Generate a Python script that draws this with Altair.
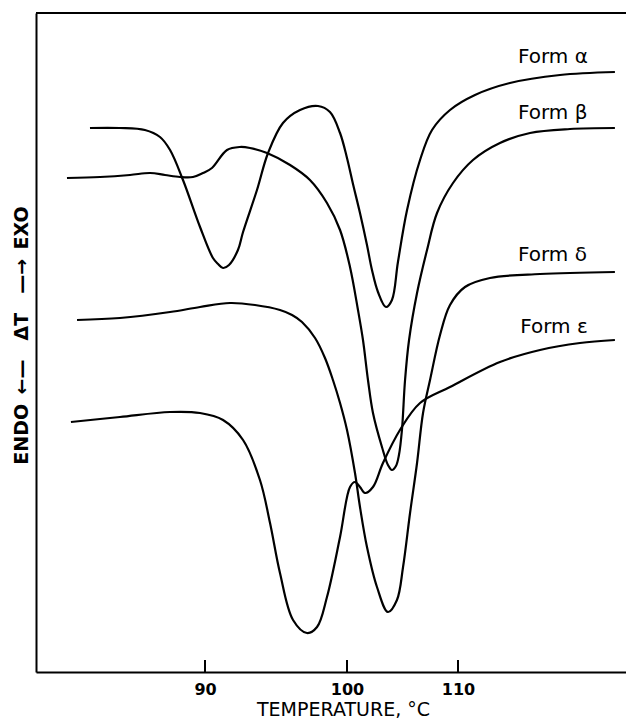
import altair as alt
import pandas as pd

# Temperature (deg C) and Delta T (arbitrary units)
alpha_T = [81.9, 84.0, 85.77, 86.83, 87.54, 88.45, 89.65, 90.56, 90.92, 91.27, 91.69, 92.32, 92.68,
           93.66, 94.44, 95.49, 96.69, 97.96, 98.80, 99.51, 100.0, 100.54, 101.17, 101.80, 102.25,
           102.79, 103.51, 104.05, 104.59, 105.41, 106.58, 107.66, 109.28, 111.53, 114.68, 119.19,
           124.14]
alpha_dT = [54.4, 54.4, 54.2, 53.5, 52.2, 49.2, 44.5, 41.4, 40.8, 40.4, 40.7, 42.2, 44.0,
            48.2, 51.9, 54.9, 56.2, 56.6, 56.0, 53.9, 51.4, 48.8, 45.9, 42.7, 40.2,
            38.0, 36.5, 37.2, 41.0, 46.2, 51.2, 54.2, 56.2, 57.7, 58.9, 59.7,
            60.0]

beta_T = [80.28, 82.61, 84.72, 86.13, 87.18, 88.24, 89.15, 89.86, 90.49, 91.55, 92.46, 93.17, 94.37,
          95.99, 97.39, 98.59, 99.51, 100.27, 100.99, 101.44, 101.89, 102.34, 103.15, 103.69, 104.05,
          104.41, 104.68, 104.95, 105.23, 105.59, 106.31, 107.21, 108.11, 109.55, 111.35, 113.78,
          116.49, 120.09, 124.14]
beta_dT = [49.4, 49.5, 49.7, 49.9, 49.7, 49.5, 49.5, 49.9, 50.4, 52.2, 52.5, 52.4, 51.9,
           50.7, 49.2, 46.9, 44.2, 40.5, 36.2, 33.2, 29.2, 25.9, 22.5, 20.7, 20.2,
           20.6, 21.7, 24.2, 29.2, 33.2, 37.9, 42.2, 45.9, 48.9, 51.2, 52.9,
           53.9, 54.3, 54.4]

delta_T = [80.99, 84.01, 87.54, 89.65, 91.76, 93.52, 95.28, 96.13, 96.83, 97.75, 98.45, 99.01, 99.51,
           100.0, 100.72, 101.17, 101.80, 102.70, 103.69, 104.50, 105.05, 105.68, 106.31, 106.85,
           107.48, 108.38, 109.28, 110.63, 112.88, 117.39, 124.14]
delta_dT = [35.2, 35.4, 36.0, 36.5, 36.9, 36.7, 36.2, 35.7, 35.0, 33.4, 31.4, 29.2, 26.9,
            24.2, 19.9, 16.5, 12.5, 8.5, 6.0, 7.2, 10.5, 15.9, 20.9, 25.9,
            29.2, 33.7, 36.7, 38.5, 39.4, 39.8, 40.0]

eps_T = [80.56, 84.01, 87.54, 89.65, 91.27, 92.68, 93.87, 94.58, 95.28, 96.20, 97.18, 97.89, 98.59,
         99.51, 100.27, 100.72, 101.17, 101.62, 102.34, 103.24, 104.77, 106.58, 109.28, 113.78,
         117.39, 120.99, 124.14]
eps_dT = [25.0, 25.5, 26.0, 25.9, 25.2, 23.2, 19.2, 14.9, 9.9, 5.2, 3.9, 4.5, 7.5,
          13.5, 18.5, 19.0, 18.5, 17.9, 18.5, 20.9, 24.2, 26.9, 28.5, 31.0,
          32.2, 32.9, 33.2]

label_text = ["Form α", "Form β", "Form δ", "Form ε"]
label_T = [115.4, 115.4, 115.4, 115.6]
label_dT = [60.9, 55.3, 41.1, 33.9]

tick_T = [90, 100, 110]

rows = []
for name, ts, ys in [("alpha", alpha_T, alpha_dT), ("beta", beta_T, beta_dT),
                     ("delta", delta_T, delta_dT), ("epsilon", eps_T, eps_dT)]:
    for i, (t, y) in enumerate(zip(ts, ys)):
        rows.append({"form": name, "T": t, "dT": y, "i": i})
curves = pd.DataFrame(rows)
labels = pd.DataFrame({"text": label_text, "T": label_T, "dT": label_dT})
ticks = pd.DataFrame({"T": tick_T})

W, H = 590, 659
xscale = alt.Scale(domain=[78.1, 90, 100, 110, 125.14], range=[0, 169, 311, 422, W],
                   nice=False, zero=False)
yscale = alt.Scale(domain=[0, 65.9], nice=False, zero=False)

FONT = "DejaVu Sans"
SP = "\u2002"  # en space (kept by SVG, unlike repeated plain spaces)
ytitle = "ENDO" + SP + "←—" + SP * 2 + "ΔT" + SP * 2 + "—→" + SP + "EXO"

xaxis = alt.Axis(values=tick_T, ticks=False, tickSize=0, grid=False, domainColor="black",
                 domainWidth=2, labelFont=FONT, labelFontSize=16, labelFontWeight="bold",
                 labelColor="black", labelPadding=9, labelBaseline="top",
                 title="TEMPERATURE, °C", titleFont=FONT, titleFontSize=19,
                 titleFontWeight="normal", titleColor="black",
                 titleBaseline="alphabetic", titleX=307, titleY=43)
yaxis = alt.Axis(values=[], ticks=False, labels=False, grid=False, domainColor="black",
                 domainWidth=2, title=ytitle, titleFont=FONT,
                 titleFontSize=19, titleFontWeight="bold", titleColor="black",
                 titleAngle=-90, titleAlign="center", titleBaseline="middle",
                 titleX=-15, titleY=322)

lines = alt.Chart(curves).mark_line(color="black", strokeWidth=2.2,
                                    interpolate="catmull-rom").encode(
    x=alt.X("T:Q", scale=xscale, axis=xaxis),
    y=alt.Y("dT:Q", scale=yscale, axis=yaxis),
    detail="form:N",
    order="i:Q",
)

text = alt.Chart(labels).mark_text(align="left", baseline="alphabetic", font=FONT,
                                   fontSize=20, color="black").encode(
    x=alt.X("T:Q", scale=xscale),
    y=alt.Y("dT:Q", scale=yscale),
    text="text:N",
)

tickmarks = alt.Chart(ticks).mark_rule(color="black", strokeWidth=2).encode(
    x=alt.X("T:Q", scale=xscale),
    y=alt.value(H),
    y2=alt.value(H - 12),
)

topline = alt.Chart(ticks).mark_rule(color="black", strokeWidth=2).encode(
    x=alt.value(0), x2=alt.value(W), y=alt.value(0)
)

chart = alt.layer(lines, text, tickmarks, topline).properties(
    width=W, height=H,
    autosize=alt.AutoSizeParams(type="none"),
    padding={"left": 36, "top": 13, "right": 0, "bottom": 47},
).configure_view(stroke=None).configure(background="white")

chart.save("out.html", embed_options={"renderer": "svg", "actions": False})
